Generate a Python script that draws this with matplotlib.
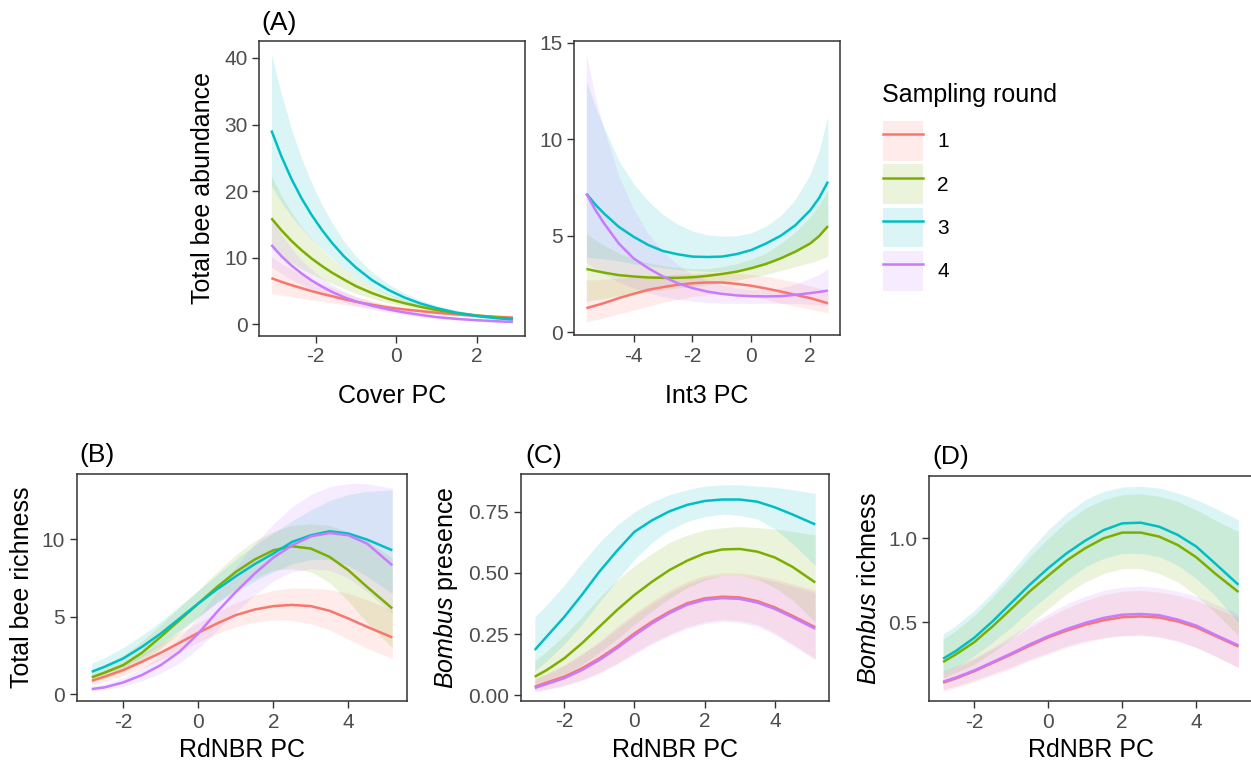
import matplotlib
matplotlib.use('Agg')
import matplotlib.pyplot as plt
from matplotlib.lines import Line2D
from matplotlib.patches import Patch

# --- data --------------------------------------------------------------------
rounds = ['1', '2', '3', '4']
colors = ['#F8766D', '#7CAE00', '#00BFC4', '#C77CFF']

# (A) left: Cover PC -> total bee abundance
cover_x = [-3.1, -2.85, -2.6, -2.35, -2.1, -1.85, -1.6, -1.3, -1.0, -0.6, -0.2,
           0.2, 0.6, 1.0, 1.5, 2.0, 2.5, 2.9]
cover_fit = [
    [6.9, 6.35, 5.85, 5.4, 4.95, 4.55, 4.2, 3.75, 3.35, 2.9, 2.5, 2.2, 1.95, 1.7, 1.45, 1.25, 1.08, 0.97],
    [15.9, 14.1, 12.5, 11.1, 9.85, 8.75, 7.75, 6.7, 5.7, 4.65, 3.8, 3.15, 2.6, 2.1, 1.65, 1.28, 1.0, 0.82],
    [29.1, 25.2, 21.8, 18.9, 16.4, 14.2, 12.25, 10.2, 8.5, 6.6, 5.15, 4.0, 3.1, 2.4, 1.7, 1.22, 0.88, 0.68],
    [11.9, 10.2, 8.8, 7.6, 6.55, 5.65, 4.85, 4.05, 3.4, 2.75, 2.2, 1.75, 1.38, 1.05, 0.78, 0.58, 0.42, 0.32],
]
cover_lo = [
    [4.6, 4.35, 4.1, 3.85, 3.6, 3.4, 3.2, 2.95, 2.7, 2.4, 2.1, 1.85, 1.62, 1.42, 1.2, 1.0, 0.82, 0.7],
    [11.3, 10.2, 9.2, 8.3, 7.5, 6.8, 6.1, 5.35, 4.6, 3.85, 3.2, 2.65, 2.2, 1.78, 1.37, 1.03, 0.78, 0.62],
    [20.8, 18.3, 16.2, 14.4, 12.7, 11.3, 9.9, 8.3, 7.0, 5.6, 4.4, 3.4, 2.65, 2.0, 1.38, 0.96, 0.65, 0.48],
    [8.6, 7.6, 6.7, 5.9, 5.2, 4.6, 4.05, 3.35, 2.75, 2.2, 1.75, 1.38, 1.05, 0.8, 0.6, 0.42, 0.28, 0.2],
]
cover_hi = [
    [10.1, 9.1, 8.2, 7.4, 6.7, 6.05, 5.5, 4.8, 4.1, 3.45, 2.95, 2.55, 2.25, 2.0, 1.75, 1.55, 1.4, 1.3],
    [22.3, 19.3, 16.8, 14.6, 12.8, 11.2, 9.8, 8.3, 7.0, 5.6, 4.55, 3.7, 3.0, 2.5, 2.0, 1.6, 1.3, 1.1],
    [40.6, 34.6, 29.3, 24.9, 21.2, 18.0, 15.3, 12.5, 10.2, 7.8, 6.05, 4.65, 3.6, 2.8, 2.08, 1.56, 1.2, 1.0],
    [16.0, 13.5, 11.4, 9.6, 8.2, 7.0, 5.95, 4.95, 4.15, 3.35, 2.7, 2.15, 1.72, 1.35, 1.05, 0.82, 0.65, 0.53],
]

# (A) right: Int3 PC -> total bee abundance
int3_x = [-5.6, -5.3, -5, -4.5, -4, -3.5, -3, -2.5, -2, -1.5, -1, -0.5, 0, 0.5, 1, 1.5, 2, 2.3, 2.6]
int3_fit = [
    [1.25, 1.38, 1.51, 1.77, 1.99, 2.2, 2.34, 2.46, 2.54, 2.58, 2.58, 2.51, 2.41, 2.27, 2.11, 1.94, 1.77, 1.64, 1.5],
    [3.28, 3.18, 3.09, 2.96, 2.89, 2.84, 2.82, 2.82, 2.85, 2.92, 3.02, 3.14, 3.32, 3.54, 3.83, 4.18, 4.6, 4.98, 5.5],
    [7.18, 6.62, 6.15, 5.46, 4.95, 4.52, 4.21, 4.04, 3.92, 3.9, 3.92, 4.05, 4.26, 4.6, 5.0, 5.55, 6.32, 6.95, 7.8],
    [7.18, 6.35, 5.64, 4.6, 3.83, 3.32, 2.89, 2.54, 2.29, 2.11, 1.99, 1.91, 1.87, 1.86, 1.87, 1.94, 2.03, 2.09, 2.16],
]
int3_lo = [
    [0.55, 0.65, 0.75, 0.95, 1.15, 1.35, 1.55, 1.7, 1.85, 1.95, 2.0, 1.95, 1.85, 1.7, 1.5, 1.35, 1.2, 1.1, 1.0],
    [1.6, 1.68, 1.75, 1.9, 2.0, 2.1, 2.2, 2.3, 2.35, 2.45, 2.55, 2.7, 2.85, 3.0, 3.2, 3.4, 3.6, 3.75, 3.95],
    [3.9, 3.85, 3.8, 3.7, 3.55, 3.45, 3.35, 3.25, 3.2, 3.15, 3.15, 3.25, 3.4, 3.6, 3.9, 4.25, 4.7, 5.0, 5.4],
    [3.6, 3.3, 3.0, 2.6, 2.3, 2.05, 1.85, 1.7, 1.6, 1.55, 1.5, 1.5, 1.5, 1.5, 1.5, 1.5, 1.45, 1.43, 1.4],
]
int3_hi = [
    [2.7, 2.72, 2.75, 2.8, 2.85, 2.9, 2.95, 3.0, 3.05, 3.1, 3.1, 3.05, 3.0, 2.9, 2.75, 2.6, 2.4, 2.28, 2.15],
    [5.1, 4.78, 4.5, 4.1, 3.8, 3.6, 3.45, 3.35, 3.3, 3.3, 3.4, 3.55, 3.8, 4.1, 4.6, 5.2, 6.0, 6.6, 7.4],
    [13.0, 11.7, 10.6, 8.9, 7.7, 6.8, 6.1, 5.6, 5.25, 5.05, 4.98, 5.0, 5.15, 5.5, 6.05, 6.9, 8.2, 9.4, 11.2],
    [14.4, 12.2, 10.5, 8.1, 6.4, 5.1, 4.2, 3.5, 3.0, 2.7, 2.45, 2.3, 2.2, 2.2, 2.3, 2.5, 2.8, 3.0, 3.3],
]

# (B) RdNBR PC -> total bee richness
rich_x = [-2.84, -2.5, -2, -1.5, -1, -0.5, 0, 0.5, 1, 1.5, 2, 2.5, 3, 3.5, 4, 4.5, 5.17]
rich_fit = [
    [0.86, 1.12, 1.55, 2.09, 2.67, 3.31, 3.96, 4.56, 5.1, 5.46, 5.68, 5.76, 5.68, 5.38, 4.88, 4.34, 3.66],
    [1.08, 1.38, 1.87, 2.67, 3.7, 4.77, 5.85, 6.92, 7.89, 8.69, 9.29, 9.55, 9.4, 8.86, 8.0, 6.92, 5.53],
    [1.44, 1.76, 2.3, 3.05, 3.91, 4.88, 5.85, 6.77, 7.61, 8.39, 9.08, 9.83, 10.26, 10.52, 10.37, 9.98, 9.29],
    [0.32, 0.43, 0.75, 1.23, 1.87, 2.73, 3.91, 5.31, 6.6, 7.78, 8.82, 9.61, 10.19, 10.41, 10.26, 9.72, 8.32],
]
rich_lo = [
    [0.6, 0.82, 1.2, 1.65, 2.2, 2.75, 3.35, 3.9, 4.35, 4.65, 4.8, 4.75, 4.55, 4.15, 3.55, 2.95, 2.3],
    [0.75, 1.0, 1.4, 2.05, 2.95, 3.95, 4.95, 5.95, 6.8, 7.5, 8.0, 8.1, 7.9, 7.2, 6.0, 4.6, 3.0],
    [1.0, 1.3, 1.75, 2.4, 3.2, 4.1, 5.0, 5.9, 6.6, 7.3, 7.9, 8.4, 8.7, 8.7, 8.3, 7.6, 6.5],
    [0.2, 0.28, 0.5, 0.85, 1.35, 2.0, 2.95, 4.1, 5.3, 6.4, 7.3, 7.9, 8.1, 8.0, 7.5, 6.6, 5.2],
]
rich_hi = [
    [1.2, 1.5, 2.0, 2.6, 3.25, 3.95, 4.6, 5.3, 5.9, 6.4, 6.7, 6.85, 6.85, 6.75, 6.5, 6.1, 5.4],
    [1.5, 1.85, 2.5, 3.4, 4.5, 5.6, 6.7, 7.9, 9.0, 9.9, 10.5, 10.9, 11.0, 10.9, 10.5, 9.9, 8.8],
    [2.0, 2.35, 3.0, 3.8, 4.7, 5.7, 6.7, 7.7, 8.7, 9.6, 10.4, 11.2, 11.9, 12.5, 12.9, 13.1, 13.2],
    [0.5, 0.65, 1.05, 1.65, 2.5, 3.6, 5.0, 6.6, 8.2, 9.7, 11.0, 12.1, 12.9, 13.4, 13.6, 13.6, 13.3],
]

# (C) RdNBR PC -> Bombus presence
pres_x = [-2.84, -2.5, -2, -1.5, -1, -0.5, 0, 0.5, 1, 1.5, 2, 2.5, 3, 3.5, 4, 4.5, 5.15]
pres_fit = [
    [0.035, 0.052, 0.076, 0.11, 0.151, 0.199, 0.253, 0.301, 0.342, 0.376, 0.396, 0.403, 0.40, 0.385, 0.359, 0.325, 0.278],
    [0.076, 0.103, 0.151, 0.212, 0.28, 0.348, 0.41, 0.464, 0.512, 0.55, 0.58, 0.596, 0.598, 0.587, 0.563, 0.525, 0.461],
    [0.185, 0.24, 0.32, 0.41, 0.505, 0.59, 0.668, 0.715, 0.752, 0.778, 0.794, 0.80, 0.80, 0.791, 0.768, 0.739, 0.698],
    [0.03, 0.046, 0.07, 0.103, 0.144, 0.192, 0.245, 0.294, 0.336, 0.37, 0.39, 0.397, 0.394, 0.379, 0.353, 0.319, 0.272],
]
pres_lo = [
    [0.018, 0.026, 0.042, 0.064, 0.094, 0.132, 0.175, 0.215, 0.25, 0.28, 0.3, 0.31, 0.305, 0.29, 0.255, 0.21, 0.15],
    [0.04, 0.055, 0.085, 0.125, 0.175, 0.23, 0.29, 0.345, 0.395, 0.44, 0.47, 0.49, 0.49, 0.475, 0.44, 0.39, 0.30],
    [0.10, 0.14, 0.21, 0.29, 0.38, 0.47, 0.555, 0.625, 0.675, 0.71, 0.73, 0.74, 0.735, 0.72, 0.68, 0.62, 0.53],
    [0.015, 0.023, 0.038, 0.06, 0.089, 0.126, 0.168, 0.208, 0.243, 0.272, 0.292, 0.302, 0.297, 0.282, 0.248, 0.204, 0.145],
]
pres_hi = [
    [0.07, 0.09, 0.125, 0.17, 0.22, 0.28, 0.335, 0.385, 0.43, 0.465, 0.49, 0.5, 0.5, 0.49, 0.475, 0.455, 0.43],
    [0.14, 0.18, 0.245, 0.32, 0.40, 0.47, 0.53, 0.58, 0.625, 0.655, 0.675, 0.685, 0.69, 0.685, 0.68, 0.67, 0.655],
    [0.32, 0.37, 0.45, 0.54, 0.625, 0.695, 0.75, 0.79, 0.82, 0.84, 0.855, 0.86, 0.86, 0.855, 0.85, 0.84, 0.825],
    [0.065, 0.085, 0.12, 0.165, 0.215, 0.27, 0.325, 0.375, 0.42, 0.455, 0.48, 0.49, 0.49, 0.48, 0.465, 0.445, 0.42],
]

# (D) RdNBR PC -> Bombus richness
brich_x = [-2.84, -2.5, -2, -1.5, -1, -0.5, 0, 0.5, 1, 1.5, 2, 2.5, 3, 3.5, 4, 4.5, 5.14]
brich_fit = [
    [0.14, 0.165, 0.208, 0.258, 0.308, 0.36, 0.41, 0.45, 0.485, 0.512, 0.53, 0.535, 0.528, 0.505, 0.47, 0.42, 0.355],
    [0.263, 0.308, 0.381, 0.476, 0.579, 0.684, 0.777, 0.868, 0.941, 1.0, 1.034, 1.034, 1.01, 0.96, 0.887, 0.792, 0.68],
    [0.283, 0.328, 0.407, 0.506, 0.615, 0.723, 0.822, 0.911, 0.986, 1.049, 1.089, 1.093, 1.069, 1.02, 0.951, 0.852, 0.723],
    [0.146, 0.17, 0.213, 0.263, 0.314, 0.368, 0.417, 0.46, 0.496, 0.526, 0.545, 0.549, 0.542, 0.516, 0.48, 0.427, 0.362],
]
brich_lo = [
    [0.09, 0.11, 0.145, 0.185, 0.225, 0.27, 0.31, 0.35, 0.38, 0.405, 0.42, 0.425, 0.415, 0.39, 0.35, 0.3, 0.23],
    [0.17, 0.2, 0.25, 0.32, 0.4, 0.49, 0.58, 0.67, 0.74, 0.79, 0.82, 0.82, 0.79, 0.74, 0.66, 0.56, 0.42],
    [0.2, 0.23, 0.3, 0.38, 0.47, 0.57, 0.66, 0.75, 0.83, 0.88, 0.91, 0.91, 0.89, 0.84, 0.76, 0.66, 0.5],
    [0.1, 0.12, 0.155, 0.195, 0.235, 0.28, 0.32, 0.36, 0.39, 0.41, 0.42, 0.42, 0.41, 0.385, 0.35, 0.3, 0.23],
]
brich_hi = [
    [0.2, 0.23, 0.28, 0.34, 0.4, 0.47, 0.53, 0.585, 0.63, 0.665, 0.685, 0.69, 0.68, 0.66, 0.63, 0.585, 0.53],
    [0.4, 0.45, 0.54, 0.65, 0.77, 0.89, 1.0, 1.1, 1.18, 1.23, 1.26, 1.265, 1.25, 1.22, 1.17, 1.11, 1.04],
    [0.43, 0.48, 0.57, 0.68, 0.8, 0.93, 1.05, 1.15, 1.23, 1.28, 1.305, 1.31, 1.3, 1.27, 1.23, 1.18, 1.11],
    [0.21, 0.24, 0.29, 0.35, 0.42, 0.49, 0.55, 0.61, 0.655, 0.69, 0.71, 0.715, 0.705, 0.685, 0.655, 0.61, 0.55],
]

# --- styling ---------------------------------------------------------------
plt.rcParams['font.family'] = ['Liberation Sans', 'DejaVu Sans']
plt.rcParams['mathtext.fontset'] = 'custom'
plt.rcParams['mathtext.rm'] = 'Liberation Sans'
plt.rcParams['mathtext.it'] = 'Liberation Sans:italic'
plt.rcParams['axes.unicode_minus'] = False

W, H = 1251, 763
FILL_A = 0.14
LW = 1.8
DARK = '#333333'


def box(left, top, right, bottom):
    return [left / W, 1 - bottom / H, (right - left) / W, (bottom - top) / H]


def panel(fig, rect, x, fit, lo, hi, xlim, ylim, xticks, yticks, yticklabels=None,
          xlabel='', ylabel='', xlab_y=None, ylab_x=None):
    ax = fig.add_axes(box(*rect))
    for c, l, h in zip(colors, lo, hi):
        ax.fill_between(x, l, h, color=c, alpha=FILL_A, linewidth=0)
    for c, f in zip(colors, fit):
        ax.plot(x, f, color=c, lw=LW, solid_capstyle='butt', solid_joinstyle='round')
    ax.set_xlim(*xlim)
    ax.set_ylim(*ylim)
    ax.set_xticks(xticks)
    ax.set_yticks(yticks)
    if yticklabels is not None:
        ax.set_yticklabels(yticklabels)
    ax.tick_params(direction='out', length=4.8, width=1.0, color=DARK,
                   labelsize=15, labelcolor='#4D4D4D', pad=3.5)
    for s in ax.spines.values():
        s.set_color(DARK)
        s.set_linewidth(1.1)
    left, top, right, bottom = rect
    if xlabel:
        ax.set_xlabel(xlabel, fontsize=18)
        ax.xaxis.label.set_verticalalignment('center')
        ax.xaxis.set_label_coords(0.5, (bottom - xlab_y) / (bottom - top))
    if ylabel:
        ax.set_ylabel(ylabel, fontsize=18)
        ax.yaxis.label.set_verticalalignment('center')
        ax.yaxis.set_label_coords((ylab_x - left) / (right - left), 0.5)
    return ax


def tag(fig, text, left_px, cy_px):
    fig.text(left_px / W, 1 - cy_px / H, text, ha='left', va='center', fontsize=19)


fig = plt.figure(figsize=(W / 100, H / 100), dpi=100)

panel(fig, (259.3, 40.7, 525, 335.7), cover_x, cover_fit, cover_lo, cover_hi,
      (-3.4, 3.2), (-1.75, 42.6), [-2, 0, 2], [0, 10, 20, 30, 40],
      xlabel='Cover PC', ylabel='Total bee abundance', xlab_y=396, ylab_x=203)
panel(fig, (574.3, 40.7, 840, 335), int3_x, int3_fit, int3_lo, int3_hi,
      (-6.01, 3.01), (-0.14, 15.1), [-4, -2, 0, 2], [0, 5, 10, 15],
      xlabel='Int3 PC', xlab_y=396)
panel(fig, (76.7, 474.3, 407.3, 701), rich_x, rich_fit, rich_lo, rich_hi,
      (-3.24, 5.57), (-0.45, 14.2), [-2, 0, 2, 4], [0, 5, 10],
      xlabel='RdNBR PC', ylabel='Total bee richness', xlab_y=750, ylab_x=22)
panel(fig, (520.7, 474.3, 829.3, 700.7), pres_x, pres_fit, pres_lo, pres_hi,
      (-3.24, 5.55), (-0.022, 0.903), [-2, 0, 2, 4], [0, 0.25, 0.5, 0.75],
      yticklabels=['0.00', '0.25', '0.50', '0.75'],
      xlabel='RdNBR PC', ylabel=r'$\mathit{Bombus}$ presence', xlab_y=750, ylab_x=446)
panel(fig, (929, 476, 1254, 701), brich_x, brich_fit, brich_lo, brich_hi,
      (-3.22, 5.56), (0.031, 1.371), [-2, 0, 2, 4], [0.5, 1.0],
      yticklabels=['0.5', '1.0'],
      xlabel='RdNBR PC', ylabel=r'$\mathit{Bombus}$ richness', xlab_y=750, ylab_x=869)

tag(fig, '(A)', 261, 23)
tag(fig, '(B)', 79, 455)
tag(fig, '(C)', 525, 456)
tag(fig, '(D)', 932, 457)

# legend: filled key with the line across it
handles = [(Patch(facecolor=c, alpha=FILL_A, edgecolor='none'),
            Line2D([], [], color=c, lw=LW)) for c in colors]
fig.text(882 / W, 1 - 95 / H, 'Sampling round', ha='left', va='center', fontsize=18)
fig.legend(handles, rounds, loc='upper left', bbox_to_anchor=(883 / W, 1 - 121 / H),
           frameon=False, fontsize=15, handlelength=1.9, handleheight=2.54,
           labelspacing=0.19, handletextpad=0.7, borderpad=0, borderaxespad=0)

fig.savefig('out.png', dpi=100)
